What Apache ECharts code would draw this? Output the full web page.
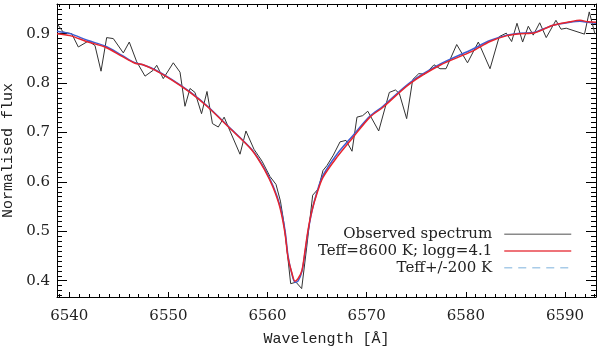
<!DOCTYPE html>
<html>
<head>
<meta charset="utf-8">
<script src="https://cdn.jsdelivr.net/npm/echarts@6/dist/echarts.min.js"></script>
<style>
  html, body { margin: 0; padding: 0; background: #fff; }
  #chart { width: 600px; height: 348px; }
</style>
</head>
<body>
<div id="chart"></div>
<script>
  // observed spectrum (wavelength in A, normalised flux)
  var obsWave = [6538.8, 6539.39, 6540.24, 6540.91, 6541.92, 6542.59, 6543.20, 6543.77, 6544.44, 6545.45,
    6546.05, 6546.80, 6547.64, 6548.47, 6548.82, 6549.48, 6550.49, 6551.17, 6551.67, 6552.18,
    6552.68, 6553.34, 6553.89, 6554.44, 6555.03, 6555.62, 6556.21, 6557.22, 6557.82, 6558.63,
    6559.44, 6560.24, 6560.85, 6561.30, 6561.61, 6561.93, 6562.33, 6562.87, 6563.44, 6563.95,
    6564.55, 6565.12, 6565.59, 6565.99, 6566.63, 6567.31, 6567.91, 6568.52, 6569.02, 6569.59,
    6570.11, 6571.21, 6572.28, 6572.90, 6573.29, 6574.03, 6574.64, 6575.25, 6575.88, 6576.79,
    6577.39, 6578.00, 6579.08, 6580.17, 6581.26, 6582.44, 6583.37, 6584.08, 6584.62, 6585.16,
    6585.73, 6586.30, 6586.80, 6587.45, 6588.11, 6589.09, 6589.60, 6590.13, 6591.97, 6592.45, 6593.03];
  var obsFlux = [0.919, 0.903, 0.900, 0.873, 0.885, 0.876, 0.824, 0.892, 0.890, 0.861,
    0.883, 0.843, 0.814, 0.826, 0.836, 0.809, 0.841, 0.822, 0.753, 0.789,
    0.781, 0.738, 0.783, 0.718, 0.711, 0.731, 0.703, 0.656, 0.703, 0.666,
    0.642, 0.611, 0.595, 0.561, 0.522, 0.468, 0.394, 0.397, 0.384, 0.468,
    0.573, 0.586, 0.623, 0.633, 0.654, 0.681, 0.684, 0.662, 0.731, 0.734,
    0.743, 0.703, 0.781, 0.786, 0.779, 0.728, 0.807, 0.819, 0.818, 0.837,
    0.829, 0.829, 0.878, 0.841, 0.883, 0.829, 0.894, 0.901, 0.884, 0.921,
    0.883, 0.915, 0.897, 0.922, 0.892, 0.927, 0.909, 0.911, 0.899, 0.944, 0.899];

  // model profiles
  var modelWave = [6538.76, 6540.07, 6541.89, 6543.60, 6545.32, 6546.63, 6547.43, 6548.64, 6550.36, 6552.18,
    6553.89, 6556.01, 6558.43, 6559.74, 6560.55, 6561.25, 6561.76, 6562.06, 6562.46, 6562.77,
    6563.07, 6563.47, 6563.78, 6564.08, 6564.48, 6564.99, 6565.59, 6567.00, 6568.62, 6570.33,
    6571.64, 6574.37, 6577.39, 6580.62, 6582.44, 6584.15, 6585.46, 6586.97, 6588.79, 6590.50,
    6591.51, 6592.32, 6593.13];
  var modelFlux = [0.900, 0.896, 0.883, 0.873, 0.854, 0.840, 0.837, 0.826, 0.806, 0.781,
    0.753, 0.712, 0.664, 0.623, 0.589, 0.548, 0.496, 0.447, 0.415, 0.399,
    0.404, 0.421, 0.461, 0.502, 0.542, 0.577, 0.609, 0.650, 0.690, 0.731,
    0.751, 0.799, 0.836, 0.864, 0.884, 0.896, 0.900, 0.902, 0.917, 0.924,
    0.927, 0.924, 0.923];
  var altFlux = [0.905, 0.900, 0.886, 0.875, 0.856, 0.841, 0.837, 0.827, 0.807, 0.782,
    0.754, 0.713, 0.665, 0.625, 0.592, 0.552, 0.502, 0.451, 0.413, 0.397,
    0.399, 0.419, 0.457, 0.499, 0.541, 0.580, 0.613, 0.656, 0.694, 0.733,
    0.753, 0.801, 0.838, 0.868, 0.886, 0.897, 0.901, 0.903, 0.917, 0.923,
    0.925, 0.923, 0.921];

  var legendNames = ['Observed spectrum', 'Teff=8600 K; logg=4.1', 'Teff+/-200 K'];

  var xMin = 6538.76, xMax = 6593.13;
  var yMin = 0.367, yMax = 0.960;
  var font = 'DejaVu Serif';
  var titleFont = 'Liberation Mono';
  var ink = '#222';

  function pairs(xs, ys) {
    return xs.map(function (x, i) { return [x, ys[i]]; });
  }

  function xAxis(pos, labels) {
    return {
      type: 'value', position: pos, min: xMin, max: xMax, splitNumber: 5,
      axisLine: { show: true, onZero: false, lineStyle: { color: '#000', width: 1 } },
      axisTick: { show: true, inside: true, length: 5, lineStyle: { color: '#000', width: 1 } },
      minorTick: { show: true, splitNumber: 10, length: 3, lineStyle: { color: '#000', width: 1 } },
      splitLine: { show: false },
      axisLabel: {
        show: labels, margin: 12, fontFamily: font, fontSize: 15, color: ink,
        showMinLabel: false, showMaxLabel: false,
        formatter: function (v) { return String(Math.round(v)); }
      },
      name: labels ? 'Wavelength [Å]' : '',
      nameLocation: 'middle', nameGap: 35,
      nameTextStyle: { fontFamily: titleFont, fontSize: 15, color: ink }
    };
  }

  function yAxis(pos, labels) {
    return {
      type: 'value', position: pos, min: yMin, max: yMax, splitNumber: 5,
      axisLine: { show: true, onZero: false, lineStyle: { color: '#000', width: 1 } },
      axisTick: { show: true, inside: true, length: 10, lineStyle: { color: '#000', width: 1 } },
      minorTick: { show: true, splitNumber: 10, length: 5, lineStyle: { color: '#000', width: 1 } },
      splitLine: { show: false },
      axisLabel: {
        show: labels, margin: 7, fontFamily: font, fontSize: 15, color: ink,
        showMinLabel: false, showMaxLabel: false,
        formatter: function (v) { return v.toFixed(1); }
      },
      name: labels ? 'Normalised flux' : '',
      nameLocation: 'middle', nameGap: 38,
      nameTextStyle: { fontFamily: titleFont, fontSize: 15, color: ink }
    };
  }

  var myChart = echarts.init(document.getElementById('chart'));
  myChart.setOption({
    animation: false,
    backgroundColor: '#fff',
    grid: { left: 57, right: 4, top: 4, bottom: 51, outerBoundsMode: 'none' },
    xAxis: [xAxis('bottom', true), xAxis('top', false)],
    yAxis: [yAxis('left', true), yAxis('right', false)],
    legend: {
      orient: 'vertical', align: 'right', right: 28, top: 226, padding: 0,
      itemGap: 0, itemWidth: 67, itemHeight: 10, selectedMode: false,
      itemStyle: { opacity: 0 },
      textStyle: { fontFamily: font, fontSize: 15, color: ink, lineHeight: 16.7, padding: [0, 7, 0, 0] },
      data: [
        { name: legendNames[0], lineStyle: { color: '#8a8a8a', width: 1.5 } },
        { name: legendNames[1], lineStyle: { color: '#e8454d', width: 1.5 } },
        { name: legendNames[2], lineStyle: { color: '#a8cbe8', width: 1.5, type: [8, 6] } }
      ]
    },
    series: [
      {
        name: legendNames[0], type: 'line', symbol: 'none',
        data: pairs(obsWave, obsFlux),
        lineStyle: { color: '#333', width: 1 }
      },
      {
        name: legendNames[2], type: 'line', symbol: 'none', smooth: 0.3,
        data: pairs(modelWave, altFlux),
        lineStyle: { color: '#3d5fd4', width: 1.5 }
      },
      {
        name: legendNames[1], type: 'line', symbol: 'none', smooth: 0.3,
        data: pairs(modelWave, modelFlux),
        lineStyle: { color: '#e8242d', width: 1.5 }
      }
    ]
  });
</script>
</body>
</html>
